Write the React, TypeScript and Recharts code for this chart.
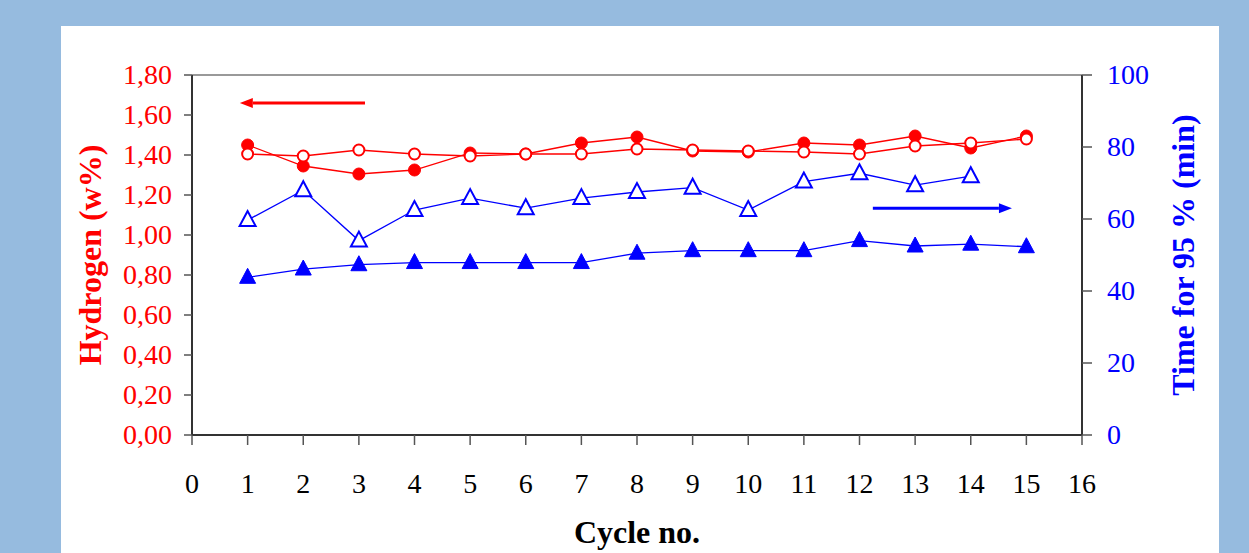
import React from 'react';
import { LineChart, Line, XAxis, YAxis, ReferenceLine } from 'recharts';

// values
const cycles = [1, 2, 3, 4, 5, 6, 7, 8, 9, 10, 11, 12, 13, 14, 15];
const h2Filled = [1.45, 1.345, 1.305, 1.325, 1.41, 1.405, 1.46, 1.49, 1.42, 1.415, 1.46, 1.45, 1.495, 1.435, 1.495];
const h2Open = [1.405, 1.395, 1.425, 1.405, 1.395, 1.405, 1.405, 1.43, 1.425, 1.42, 1.415, 1.405, 1.445, 1.46, 1.48];
const timeOpen = [59.7, 68, 54, 62.5, 65.8, 63, 65.8, 67.5, 68.7, 62.5, 70.4, 72.7, 69.4, 71.9, null];
const timeFilled = [43.8, 46.1, 47.3, 47.9, 47.9, 47.9, 47.9, 50.5, 51.2, 51.2, 51.2, 54, 52.5, 53, 52.3];

const xTicks = [0, 1, 2, 3, 4, 5, 6, 7, 8, 9, 10, 11, 12, 13, 14, 15, 16];
const leftTicks = [0, 0.2, 0.4, 0.6, 0.8, 1.0, 1.2, 1.4, 1.6, 1.8];
const rightTicks = [0, 20, 40, 60, 80, 100];

// arrows (x from, x to, y)
const redArrow = { from: 3.11, to: 0.86, y: 1.66 };
const blueArrow = { from: 12.24, to: 14.74, y: 63 };

const data = cycles.map((c, i) => ({
  cycle: c,
  h2Filled: h2Filled[i],
  h2Open: h2Open[i],
  timeOpen: timeOpen[i],
  timeFilled: timeFilled[i],
}));

const RED = '#ff0000';
const BLUE = '#0000ff';
const SERIF = 'Liberation Serif, Times New Roman, serif';

const FilledCircle = ({ cx, cy }: any) =>
  cx == null || cy == null ? null : <circle cx={cx} cy={cy} r={6} fill={RED} stroke={RED} />;
const OpenCircle = ({ cx, cy }: any) =>
  cx == null || cy == null ? null : <circle cx={cx} cy={cy} r={5.5} fill="#fff" stroke={RED} strokeWidth={2} />;

const tri = (cx: number, cy: number) =>
  `M${cx},${cy - 9} L${cx - 8},${cy + 6} L${cx + 8},${cy + 6} Z`;
const FilledTri = ({ cx, cy }: any) =>
  cx == null || cy == null ? null : <path d={tri(cx, cy)} fill={BLUE} stroke={BLUE} />;
const OpenTri = ({ cx, cy }: any) =>
  cx == null || cy == null ? null : <path d={tri(cx, cy)} fill="#fff" stroke={BLUE} strokeWidth={2} />;

const arrowShape = (color: string) => (props: any) => {
  const { x1, y1, x2, y2 } = props;
  if (x1 == null) return null;
  const dir = x2 > x1 ? 1 : -1;
  const baseX = x2 - dir * 13;
  return (
    <g>
      <line x1={x1} y1={y1} x2={baseX} y2={y2} stroke={color} strokeWidth={3} />
      <polygon points={`${x2},${y2} ${baseX},${y2 - 5} ${baseX},${y2 + 5}`} fill={color} />
    </g>
  );
};

const fmtLeft = (v: number) => v.toFixed(2).replace('.', ',');

const XTick = ({ x, y, payload }: any) => (
  <text x={x} y={y + 20} textAnchor="middle" fontFamily={SERIF} fontSize={28} fill="#000">
    {payload.value}
  </text>
);
const LeftTick = ({ x, y, payload }: any) => (
  <text x={x} y={y + 9} textAnchor="end" fontFamily={SERIF} fontSize={28} fill={RED}>
    {fmtLeft(payload.value)}
  </text>
);
const RightTick = ({ x, y, payload }: any) => (
  <text x={x} y={y + 9} textAnchor="start" fontFamily={SERIF} fontSize={28} fill={BLUE}>
    {payload.value}
  </text>
);

export default function App() {
  return (
    <div style={{ position: 'absolute', left: 0, top: 0, width: 1249, height: 553, background: '#96bbdf', overflow: 'hidden', fontFamily: SERIF }}>
      <div style={{ position: 'absolute', left: 61, top: 26, width: 1158, height: 527, background: '#fff' }} />
      <div style={{ position: 'absolute', left: 0, top: 0 }}>
        <LineChart width={1249} height={553} data={data} margin={{ top: 75, right: 67, bottom: 8, left: 52 }}>
          <XAxis
            dataKey="cycle"
            type="number"
            domain={[0, 16]}
            ticks={xTicks}
            interval={0}
            height={110}
            axisLine={{ stroke: '#333', strokeWidth: 2 }}
            tickLine={{ stroke: '#555', strokeWidth: 1.5 }}
            tickSize={10}
            tickMargin={28}
            tick={<XTick />}
            label={(p: any) => {
              const vb = p.viewBox;
              return (
                <text x={vb.x + vb.width / 2} y={vb.y + 108} textAnchor="middle" fontFamily={SERIF} fontSize={32} fontWeight="bold" fill="#000">
                  Cycle no.
                </text>
              );
            }}
          />
          <YAxis
            yAxisId="left"
            domain={[0, 1.8]}
            ticks={leftTicks}
            interval={0}
            width={140}
            axisLine={{ stroke: '#333', strokeWidth: 2 }}
            tickLine={{ stroke: '#555', strokeWidth: 1.5 }}
            tickSize={8}
            tickMargin={12}
            tick={<LeftTick />}
            label={(p: any) => {
              const vb = p.viewBox;
              const cx = vb.x + 49;
              const cy = vb.y + vb.height / 2;
              return (
                <text x={cx} y={cy} transform={`rotate(-90 ${cx} ${cy})`} textAnchor="middle" fontFamily={SERIF} fontSize={32} fontWeight="bold" fill={RED}>
                  Hydrogen (w%)
                </text>
              );
            }}
          />
          <YAxis
            yAxisId="right"
            orientation="right"
            domain={[0, 100]}
            ticks={rightTicks}
            interval={0}
            width={100}
            axisLine={{ stroke: '#333', strokeWidth: 2 }}
            tickLine={{ stroke: '#555', strokeWidth: 1.5 }}
            tickSize={10}
            tickMargin={15}
            tick={<RightTick />}
            label={(p: any) => {
              const vb = p.viewBox;
              const cx = vb.x + 112;
              const cy = vb.y + vb.height / 2;
              return (
                <text x={cx} y={cy} transform={`rotate(-90 ${cx} ${cy})`} textAnchor="middle" fontFamily={SERIF} fontSize={32} fontWeight="bold" fill={BLUE}>
                  Time for 95 % (min)
                </text>
              );
            }}
          />
          <ReferenceLine yAxisId="left" y={1.8} stroke="#999" strokeWidth={2} />
          <ReferenceLine
            yAxisId="left"
            segment={[{ x: redArrow.from, y: redArrow.y }, { x: redArrow.to, y: redArrow.y }]}
            shape={arrowShape(RED)}
          />
          <ReferenceLine
            yAxisId="right"
            segment={[{ x: blueArrow.from, y: blueArrow.y }, { x: blueArrow.to, y: blueArrow.y }]}
            shape={arrowShape(BLUE)}
          />
          <Line yAxisId="right" dataKey="timeFilled" stroke={BLUE} strokeWidth={1.3} dot={<FilledTri />} activeDot={false} isAnimationActive={false} />
          <Line yAxisId="right" dataKey="timeOpen" stroke={BLUE} strokeWidth={1.3} dot={<OpenTri />} activeDot={false} isAnimationActive={false} />
          <Line yAxisId="left" dataKey="h2Filled" stroke={RED} strokeWidth={1.3} dot={<FilledCircle />} activeDot={false} isAnimationActive={false} />
          <Line yAxisId="left" dataKey="h2Open" stroke={RED} strokeWidth={1.3} dot={<OpenCircle />} activeDot={false} isAnimationActive={false} />
        </LineChart>
      </div>
    </div>
  );
}
